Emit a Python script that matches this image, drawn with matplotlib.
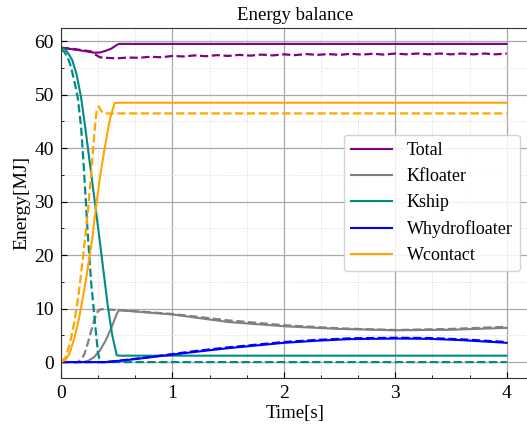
#!/usr/bin/env python3
# Balance de energia: curvas solidas y punteadas por componente.
import matplotlib
matplotlib.use("Agg")
import matplotlib.pyplot as plt
from matplotlib.ticker import MultipleLocator

plt.rcParams["font.family"] = ["Liberation Serif", "DejaVu Serif"]
plt.rcParams["mathtext.fontset"] = "stix"

# --- datos (t en s, E en MJ) ---
t_total = [0, 0.1, 0.2, 0.3, 0.35, 0.4, 0.45, 0.5, 0.52, 4.0]
e_total = [58.8, 58.5, 58.2, 57.85, 57.9, 58.2, 58.6, 59.3, 59.5, 59.5]
t_total_d = [0, 0.1, 0.2, 0.27, 0.3, 0.35, 0.4, 0.5, 0.6, 0.7, 0.8, 0.9, 1.0, 1.1, 1.2,
             1.3, 1.4, 1.5, 1.6, 1.7, 1.8, 1.9, 2.0, 2.1, 2.2, 2.3, 2.4, 2.5, 2.6,
             2.7, 2.8, 2.9, 3.0, 3.1, 3.2, 3.3, 3.4, 3.5, 3.6, 3.7, 3.8, 3.9, 4.0]
e_total_d = [58.8, 58.6, 58.3, 58.1, 57.6, 57.0, 56.9, 56.8, 56.95, 56.9, 57.1, 57.0,
             57.25, 57.15, 57.35, 57.2, 57.4, 57.25, 57.45, 57.3, 57.5, 57.35, 57.55,
             57.4, 57.6, 57.45, 57.6, 57.45, 57.65, 57.5, 57.65, 57.5, 57.7, 57.55,
             57.7, 57.55, 57.7, 57.55, 57.7, 57.55, 57.7, 57.55, 57.7]

t_kfl = [0, 0.2, 0.25, 0.3, 0.35, 0.4, 0.45, 0.5, 0.52, 1.0, 1.5, 2.0, 2.5, 3.0, 3.5, 4.0]
e_kfl = [0, 0, 0.3, 1.0, 2.2, 4.0, 6.3, 9.0, 9.7, 8.9, 7.5, 6.7, 6.2, 5.95, 6.05, 6.4]
t_kfl_d = [0, 0.15, 0.18, 0.21, 0.24, 0.27, 0.30, 0.33, 0.36, 0.45, 0.55, 1.0, 1.5,
           2.0, 2.5, 3.0, 3.5, 4.0]
e_kfl_d = [0, 0, 0.4, 1.5, 3.5, 5.8, 8.0, 9.5, 9.9, 9.8, 9.7, 9.0, 7.8, 6.9, 6.3,
           6.0, 6.2, 6.6]

t_ksh = [0, 0.03, 0.06, 0.10, 0.14, 0.18, 0.22, 0.26, 0.30, 0.34, 0.38, 0.42, 0.46,
         0.50, 0.52, 4.0]
e_ksh = [58.8, 58.6, 57.9, 56.5, 53.8, 49.5, 43.5, 37, 30.5, 24, 17.2, 10.5, 5,
         1.3, 1.2, 1.2]
t_ksh_d = [0, 0.03, 0.06, 0.09, 0.12, 0.15, 0.18, 0.20, 0.22, 0.24, 0.27, 0.30, 0.33,
           0.35, 4.0]
e_ksh_d = [58.5, 58.0, 57.0, 55.2, 52.5, 49.5, 44.0, 38.0, 31.0, 24.0, 15.0, 8.5,
           2.0, 0, 0]

t_why = [0, 0.4, 0.5, 0.6, 0.8, 1.0, 1.2, 1.5, 1.8, 2.0, 2.3, 2.6, 3.0, 3.3, 3.6, 4.0]
e_why = [0, 0, 0.2, 0.4, 0.9, 1.4, 1.9, 2.6, 3.2, 3.6, 4.0, 4.3, 4.4, 4.35, 4.1, 3.6]
e_why_d = [0, 0, 0.2, 0.45, 0.95, 1.5, 2.05, 2.75, 3.35, 3.75, 4.15, 4.45, 4.55,
           4.5, 4.25, 3.75]

t_wct = [0, 0.04, 0.08, 0.12, 0.16, 0.20, 0.24, 0.28, 0.32, 0.36, 0.40, 0.44, 0.48,
         0.52, 4.0]
e_wct = [0, 0.4, 1.8, 4.5, 8, 12.5, 17.5, 23, 30, 36, 41, 45.5, 48.4, 48.5, 48.5]
t_wct_d = [0, 0.04, 0.08, 0.12, 0.16, 0.20, 0.24, 0.27, 0.30, 0.32, 0.34, 0.36, 0.38,
           4.0]
e_wct_d = [0, 0.8, 3.5, 7.5, 13, 20, 28, 35, 43, 47, 47.8, 47, 46.5, 46.5]

etiquetas = ["Total", "Kfloater", "Kship", "Whydrofloater", "Wcontact"]
colores = ["purple", "gray", "darkcyan", "blue", "orange"]

series = [
    (t_total, e_total, t_total_d, e_total_d),
    (t_kfl, e_kfl, t_kfl_d, e_kfl_d),
    (t_ksh, e_ksh, t_ksh_d, e_ksh_d),
    (t_why, e_why, t_why, e_why_d),
    (t_wct, e_wct, t_wct_d, e_wct_d),
]

fig = plt.figure(figsize=(5.27, 4.25), dpi=100)
ax = fig.add_axes([61 / 527, 47 / 425, 468 / 527, 350 / 425])

for (ts, es, td, ed), nombre, c in zip(series, etiquetas, colores):
    ax.plot(ts, es, color=c, lw=1.5, label=nombre)
    ax.plot(td, ed, color=c, lw=1.6, ls="--")

ax.set_xlim(0, 4.2)
ax.xaxis.set_major_locator(MultipleLocator(1))
ax.xaxis.set_minor_locator(MultipleLocator(1 / 3))
ax.yaxis.set_major_locator(MultipleLocator(10))
ax.yaxis.set_minor_locator(MultipleLocator(5))
ax.grid(which="major", color="#a8a8a8", lw=0.9)
ax.grid(which="minor", color="#d8d8d8", lw=0.7, ls=":")
ax.set_axisbelow(True)
ax.tick_params(which="both", direction="in", labelsize=14)
ax.tick_params(which="major", length=4, pad=5)
ax.tick_params(which="minor", length=2)
for lado in ax.spines.values():
    lado.set_color("#333333")

ax.set_title("Energy balance", fontsize=13.5)
ax.set_xlabel("Time[s]", fontsize=13.5, labelpad=2)
ax.set_ylabel("Energy[MJ]", fontsize=14, labelpad=3)

ax.legend(loc="center right", fontsize=13, handlelength=2.3, framealpha=0.85,
          edgecolor="#cccccc")

fig.savefig("out.png", dpi=100)
